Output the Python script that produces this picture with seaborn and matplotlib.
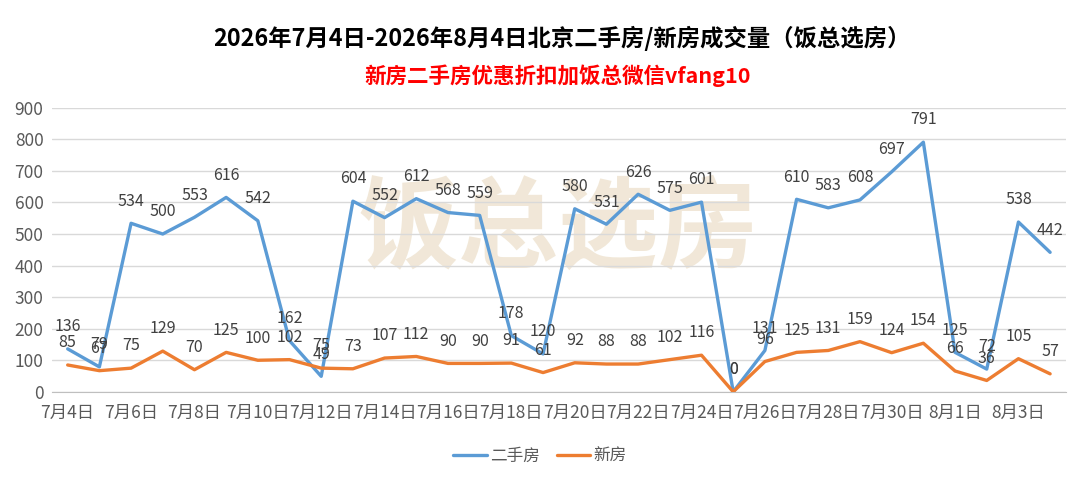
import numpy as np
import pandas as pd
import matplotlib
matplotlib.use("Agg")
import matplotlib.pyplot as plt
import seaborn as sns

sns.set_style("white")
plt.rcParams['font.family'] = ['Noto Sans CJK SC', 'DejaVu Sans']

# ---- data ----
dates = ['7月4日', '7月5日', '7月6日', '7月7日', '7月8日', '7月9日', '7月10日', '7月11日',
         '7月12日', '7月13日', '7月14日', '7月15日', '7月16日', '7月17日', '7月18日', '7月19日',
         '7月20日', '7月21日', '7月22日', '7月23日', '7月24日', '7月25日', '7月26日', '7月27日',
         '7月28日', '7月29日', '7月30日', '7月31日', '8月1日', '8月2日', '8月3日', '8月4日']
second_hand = [136, 79, 534, 500, 553, 616, 542, 162, 49, 604,
               552, 612, 568, 559, 178, 120, 580, 531, 626, 575,
               601, 0, 131, 610, 583, 608, 697, 791, 125, 72,
               538, 442]
new_house = [85, 67, 75, 129, 70, 125, 100, 102, 75, 73,
             107, 112, 90, 90, 91, 61, 92, 88, 88, 102,
             116, 0, 96, 125, 131, 159, 124, 154, 66, 36,
             105, 57]
series_names = ['二手房', '新房']
colors = ['#5B9BD5', '#ED7D31']

idx = list(range(len(dates)))
df = pd.DataFrame({
    'idx': idx * 2,
    'value': second_hand + new_house,
    'type': [series_names[0]] * len(dates) + [series_names[1]] * len(dates),
})

fig = plt.figure(figsize=(10.8, 4.79), dpi=100)
ax = fig.add_axes([0.048, 0.182, 0.939, 0.593])

# watermark
ax.text(0.5, 0.57, '饭总选房', transform=ax.transAxes, ha='center', va='center',
        fontsize=72, fontweight='bold', color='#E6D5B8', alpha=0.55, zorder=0)

sns.lineplot(data=df, x='idx', y='value', hue='type', palette=colors,
             linewidth=2.4, ax=ax, legend=False, zorder=3)

for vals in (second_hand, new_house):
    for i, v in enumerate(vals):
        ax.annotate(str(v), (i, v), xytext=(0, 16), textcoords='offset points',
                    ha='center', va='center', fontsize=11.5, color='#404040', zorder=4)

ax.set_xlim(-0.5, len(dates) - 0.5)
ax.set_ylim(0, 900)
ax.set_yticks(range(0, 901, 100))
ax.yaxis.grid(True, color='#D9D9D9', linewidth=1)
ax.set_axisbelow(True)
ax.set_xticks(idx[::2])
ax.set_xticklabels(dates[::2])
ax.set_xticks(np.arange(-0.5, len(dates), 2), minor=True)
ax.tick_params(axis='x', which='major', length=0, pad=9, labelsize=12.5, labelcolor='#595959')
ax.tick_params(axis='x', which='minor', length=5, color='#BFBFBF', width=1)
ax.tick_params(axis='y', length=0, labelsize=12.5, labelcolor='#595959', pad=6)
for s in ['top', 'right', 'left']:
    ax.spines[s].set_visible(False)
ax.spines['bottom'].set_color('#BFBFBF')
ax.set_xlabel('')
ax.set_ylabel('')

fig.text(0.52, 0.92, '2026年7月4日-2026年8月4日北京二手房/新房成交量（饭总选房）',
         ha='center', va='center', fontsize=16.8, fontweight='bold', color='black')
fig.text(0.516, 0.843, '新房二手房优惠折扣加饭总微信vfang10',
         ha='center', va='center', fontsize=15.5, fontweight='bold', color='#FF0000')

handles = [plt.Line2D([], [], color=c, linewidth=2.4) for c in colors]
fig.legend(handles, series_names, loc='center', bbox_to_anchor=(0.5, 0.048), ncol=2,
           frameon=False, fontsize=12, handlelength=2.0, columnspacing=1.0,
           labelcolor='#595959', handletextpad=0.2)

fig.savefig('out.png', dpi=100)
